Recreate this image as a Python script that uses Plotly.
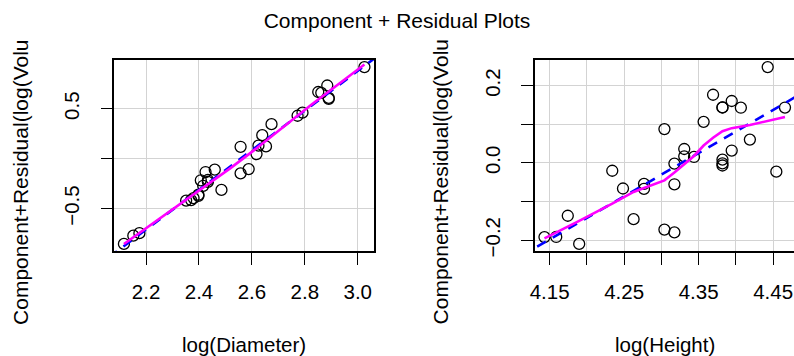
import numpy as np
import plotly.graph_objects as go

# ---- data (partial residuals, trees model log(Volume) ~ log(Diameter) + log(Height)) ----
log_diameter = [2.1163, 2.1518, 2.1748, 2.3514, 2.3702, 2.3795, 2.3979, 2.3979, 2.4069, 2.4159,
                2.4248, 2.4336, 2.4336, 2.4596, 2.4849, 2.5572, 2.5572, 2.5878, 2.6174, 2.6247,
                2.6391, 2.6532, 2.6741, 2.7726, 2.7912, 2.8507, 2.8622, 2.8848, 2.8904, 2.8904, 3.0253]
cr_diameter = [-0.8526, -0.7698, -0.7447, -0.4190, -0.4140, -0.3945, -0.3718, -0.3604, -0.2160, -0.2711,
               -0.1335, -0.2321, -0.2133, -0.1100, -0.3122, -0.1468, 0.1188, -0.1042, 0.0459, 0.1302,
               0.2353, 0.1224, 0.3450, 0.4292, 0.4606, 0.6668, 0.6585, 0.7317, 0.6076, 0.5979, 0.9162]
log_height = [4.2485, 4.1744, 4.1431, 4.2767, 4.3944, 4.4188, 4.1897, 4.3175, 4.3820, 4.3175,
              4.3694, 4.3307, 4.3307, 4.2341, 4.3175, 4.3041, 4.4427, 4.4543, 4.2627, 4.1589,
              4.3567, 4.3820, 4.3041, 4.2767, 4.3438, 4.3944, 4.4067, 4.3820, 4.3820, 4.3820, 4.4659]
cr_height = [-0.0661, -0.1365, -0.1918, -0.0671, 0.0321, 0.0604, -0.2094, -0.0552, 0.1434, -0.0016,
             0.1764, 0.0171, 0.0360, -0.0202, -0.1794, -0.1724, 0.2479, -0.0225, -0.1453, -0.1914,
             0.1062, -0.0066, 0.0875, -0.0541, 0.0155, 0.1602, 0.1428, 0.1436, 0.0086, -0.0012, 0.1433]

# smoother (magenta) curves
smooth_d_x = [2.1163, 2.2173, 2.3183, 2.4193, 2.5203, 2.6213, 2.7223, 2.8233, 2.9243, 3.0253]
smooth_d_y = [-0.8535, -0.6612, -0.4686, -0.2769, -0.0920, 0.1110, 0.3271, 0.5361, 0.7403, 0.9418]
smooth_h_x = [4.1431, 4.1589, 4.1897, 4.2341, 4.2627, 4.2767, 4.3041, 4.3175, 4.3307, 4.3438,
              4.3567, 4.3694, 4.3820, 4.3944, 4.4188, 4.4427, 4.4659]
smooth_h_y = [-0.195, -0.180, -0.150, -0.105, -0.075, -0.065, -0.045, -0.025, -0.003, 0.018,
              0.045, 0.065, 0.082, 0.090, 0.098, 0.108, 0.119]

title_text = "Component + Residual Plots"
ylab_text = "Component+Residual(log(Volu"
xlab_left = "log(Diameter)"
xlab_right = "log(Height)"

xticks_left = [2.2, 2.4, 2.6, 2.8, 3.0]
xticklab_left = ["2.2", "2.4", "2.6", "2.8", "3.0"]
yticks_left = [-0.5, 0.0, 0.5]
yticklab_left = ["\u22120.5", "", "0.5"]
xticks_right = [4.15, 4.20, 4.25, 4.30, 4.35, 4.40, 4.45]
xticklab_right = ["4.15", "", "4.25", "", "4.35", "", "4.45"]
yticks_right = [-0.2, -0.1, 0.0, 0.1, 0.2]
yticklab_right = ["\u22120.2", "", "0.0", "", "0.2"]

W, H = 794, 356
FONT = "Liberation Sans, Arial, Helvetica, sans-serif"

def rng(v, ext=0.04):
    lo, hi = min(v), max(v)
    d = (hi - lo) * ext
    return [lo - d, hi + d]

xr1 = rng(log_diameter); yr1 = rng(cr_diameter)
xr2 = rng(log_height); yr2 = rng(cr_height)
# right panel is cut at the image edge
x2_left_px, x2_right_px = 533.2, 794.6
xr2_vis = [xr2[0], xr2[0] + (xr2[1] - xr2[0]) * (794 - x2_left_px) / (x2_right_px - x2_left_px)]

fig = go.Figure()

def add_panel(x, y, sx, sy, xr, xa, ya):
    fig.add_trace(go.Scatter(x=x, y=y, mode="markers", xaxis=xa, yaxis=ya,
                             marker=dict(symbol="circle-open", size=11, color="black",
                                         line=dict(width=1.3, color="black")),
                             showlegend=False, hoverinfo="x+y"))
    k, c = np.polyfit(np.array(x), np.array(y), 1)
    lx = [xr[0] - 1, xr[1] + 1]
    fig.add_trace(go.Scatter(x=lx, y=[k * v + c for v in lx], mode="lines", xaxis=xa, yaxis=ya,
                             line=dict(color="#0000FF", width=2.6, dash="10px,8px"),
                             showlegend=False, hoverinfo="skip"))
    fig.add_trace(go.Scatter(x=sx, y=sy, mode="lines", xaxis=xa, yaxis=ya,
                             line=dict(color="#FF00FF", width=2.6),
                             showlegend=False, hoverinfo="skip"))

add_panel(log_diameter, cr_diameter, smooth_d_x, smooth_d_y, xr1, "x", "y")
add_panel(log_height, cr_height, smooth_h_x, smooth_h_y, xr2, "x2", "y2")

axis_common = dict(showgrid=True, gridcolor="#D3D3D3", gridwidth=1.2, zeroline=False,
                   showline=True, linecolor="black", linewidth=1.5,
                   ticks="outside", ticklen=12, tickwidth=1.3, tickcolor="black",
                   tickfont=dict(family=FONT, size=20.5, color="black"))

fig.update_layout(
    width=W, height=H, margin=dict(l=0, r=0, t=60, b=105),
    paper_bgcolor="white", plot_bgcolor="white",
    xaxis=dict(domain=[110 / W, 371.4 / W], range=xr1, tickvals=xticks_left, ticktext=xticklab_left,
               mirror=True, ticklabelstandoff=10, anchor="y", **axis_common),
    yaxis=dict(domain=[0, 1], range=yr1, tickvals=yticks_left, ticktext=yticklab_left,
               mirror=True, tickangle=-90, ticklabelstandoff=13, anchor="x", **axis_common),
    xaxis2=dict(domain=[x2_left_px / W, 1.0], range=xr2_vis, tickvals=xticks_right, ticktext=xticklab_right,
                mirror=True, ticklabelstandoff=10, anchor="y2", **axis_common),
    yaxis2=dict(domain=[0, 1], range=yr2, tickvals=yticks_right, ticktext=yticklab_right,
                mirror=False, tickangle=-90, ticklabelstandoff=13, anchor="x2", **axis_common),
    title=dict(text=title_text, x=0.5, xanchor="center", y=1 - 21 / H, yanchor="middle",
               yref="container", font=dict(family=FONT, size=21, color="black")),
)

plot_top, plot_bot = 60, 251
def py(px):
    return (plot_bot - px) / (plot_bot - plot_top)

for xc in (15, 15 + (x2_left_px - 110)):
    fig.add_annotation(x=xc / W, y=py(182), xref="paper", yref="paper", text=ylab_text,
                       textangle=-90, showarrow=False, xanchor="center", yanchor="middle",
                       font=dict(family=FONT, size=21, color="black"))
fig.add_annotation(x=(110 + 371.4) / 2 / W, y=py(344), xref="paper", yref="paper", text=xlab_left,
                   showarrow=False, xanchor="center", yanchor="middle",
                   font=dict(family=FONT, size=20.5, color="black"))
fig.add_annotation(x=(x2_left_px + x2_right_px) / 2 / W, y=py(344), xref="paper", yref="paper",
                   text=xlab_right, showarrow=False, xanchor="center", yanchor="middle",
                   font=dict(family=FONT, size=20.5, color="black"))

fig.write_html("out.html")
